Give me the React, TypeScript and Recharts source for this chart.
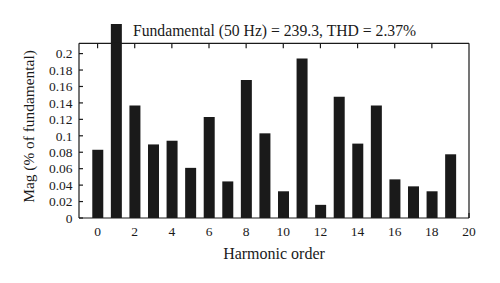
import React from 'react';
import { BarChart, Bar, XAxis, YAxis, ReferenceLine, Label } from 'recharts';

const harmonicOrders = [0, 1, 2, 3, 4, 5, 6, 7, 8, 9, 10, 11, 12, 13, 14, 15, 16, 17, 18, 19];
const magnitudes = [0.083, 0.236, 0.137, 0.0895, 0.094, 0.061, 0.123, 0.0445, 0.168, 0.103, 0.0325, 0.194, 0.016, 0.1475, 0.0905, 0.137, 0.047, 0.0385, 0.0325, 0.0775];
const xTicks = [0, 2, 4, 6, 8, 10, 12, 14, 16, 18, 20];
const yTicks = [0, 0.02, 0.04, 0.06, 0.08, 0.1, 0.12, 0.14, 0.16, 0.18, 0.2];
const yTickLabels = ['0', '0.02', '0.04', '0.06', '0.08', '0.1', '0.12', '0.14', '0.16', '0.18', '0.2'];
const frameTop = 0.2125;
const xMin = -1;
const xMax = 20;
const titleText = 'Fundamental (50 Hz) = 239.3, THD = 2.37%';
const xLabelText = 'Harmonic order';
const yLabelText = 'Mag (% of fundamental)';

const data = harmonicOrders.map((order, i) => ({ order, mag: magnitudes[i] }));
const yMax = Math.max(...magnitudes);

const FONT = '"Liberation Serif", "DejaVu Serif", serif';
const INK = '#1a1a1a';
const topTickLen = 0.006;

export default function App() {
  return (
    <div style={{ position: 'absolute', left: 0, top: 0, width: 500, height: 283, background: '#fff' }}>
      <BarChart
        width={500}
        height={283}
        data={data}
        margin={{ top: 24, right: 31, bottom: 20, left: 0 }}
      >
        <XAxis
          type="number"
          dataKey="order"
          domain={[xMin, xMax]}
          ticks={xTicks}
          interval={0}
          height={45}
          axisLine={{ stroke: INK, strokeWidth: 1.2 }}
          tickLine={{ stroke: INK, strokeWidth: 1.2 }}
          tickSize={-5}
          tickMargin={13.5}
          tick={{ fill: INK, fontSize: 13.5, fontFamily: FONT }}
        >
          <Label value={xLabelText} position="insideBottom" offset={4} style={{ fill: INK, fontSize: 16, fontFamily: FONT }} />
        </XAxis>
        <YAxis
          type="number"
          domain={[0, yMax]}
          ticks={yTicks}
          interval={0}
          width={79}
          axisLine={false}
          tickLine={{ stroke: INK, strokeWidth: 1.2 }}
          tickSize={-4}
          tickMargin={10.5}
          tickFormatter={(v: number) => yTickLabels[yTicks.findIndex((t) => Math.abs(t - v) < 1e-9)] ?? String(v)}
          tick={{ fill: INK, fontSize: 13.5, fontFamily: FONT }}
        />
        <YAxis
          yAxisId="right"
          orientation="right"
          type="number"
          domain={[0, yMax]}
          ticks={yTicks}
          interval={0}
          width={0}
          axisLine={false}
          tickLine={{ stroke: INK, strokeWidth: 1.2 }}
          tickSize={-4}
          tick={false}
        />
        <Bar dataKey="mag" fill={INK} barSize={11} isAnimationActive={false} />
        <ReferenceLine segment={[{ x: xMin, y: 0 }, { x: xMin, y: frameTop }]} stroke={INK} strokeWidth={1.2} ifOverflow="visible" />
        <ReferenceLine segment={[{ x: xMax, y: 0 }, { x: xMax, y: frameTop }]} stroke={INK} strokeWidth={1.2} ifOverflow="visible" />
        <ReferenceLine segment={[{ x: xMin, y: frameTop }, { x: xMax, y: frameTop }]} stroke={INK} strokeWidth={1.2} ifOverflow="visible" />
        {xTicks.slice(0, -1).map((t) => (
          <ReferenceLine
            key={`tt${t}`}
            segment={[{ x: t, y: frameTop }, { x: t, y: frameTop - topTickLen }]}
            stroke={INK}
            strokeWidth={1.2}
            ifOverflow="visible"
          />
        ))}
      </BarChart>
      <svg width={500} height={283} style={{ position: 'absolute', left: 0, top: 0, pointerEvents: 'none' }}>
        <text x={274.5} y={36} textAnchor="middle" fontSize={15.7} fontFamily={FONT} fill={INK}>
          {titleText}
        </text>
        <text
          x={0}
          y={0}
          transform="translate(33.5,126.5) rotate(-90)"
          textAnchor="middle"
          fontSize={15.4}
          fontFamily={FONT}
          fill={INK}
        >
          {yLabelText}
        </text>
      </svg>
    </div>
  );
}
